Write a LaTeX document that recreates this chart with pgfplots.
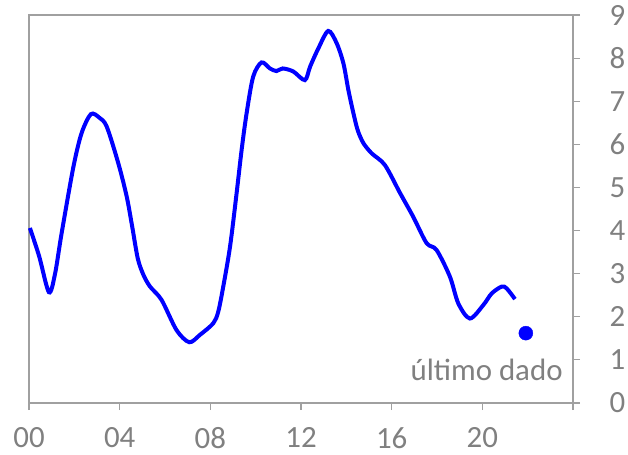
\documentclass[border=0pt]{standalone}
\usepackage{pgfplots}
\pgfplotsset{compat=1.18}
\usepackage{fontspec}
\setmainfont{Carlito}
\definecolor{axisgray}{RGB}{160,160,160}
\definecolor{textgray}{RGB}{128,128,128}
\definecolor{lineblue}{RGB}{0,0,255}

\begin{document}
\begin{tikzpicture}
\useasboundingbox (-29bp,-52bp) rectangle (599bp,403bp);
\begin{axis}[
    scale only axis,
    width=544bp, height=388bp,
    xmin=0, xmax=24, ymin=0, ymax=9,
    xtick={0,4,8,12,16,20,24},
    xticklabels={00,04,08,12,16,20,{}},
    ytick={0,1,...,9},
    xtick pos=bottom, ytick pos=right,
    yticklabel pos=right,
    tick align=outside,
    major tick length=7bp,
    axis line style={axisgray, line width=1.2pt},
    every tick/.style={axisgray, line width=1.2pt},
    tick label style={font=\fontsize{31}{33}\selectfont, text=textgray},
    /pgf/number format/assume math mode=true,
    xticklabel style={yshift=-14bp},
    yticklabel style={xshift=26bp},
    clip=false,
]
\addplot[lineblue, line width=4bp, smooth, tension=0.5] coordinates {
    (0.04,4.06) (0.45,3.40) (0.88,2.57) (1.15,3.00) (1.44,3.94)
    (1.96,5.48) (2.32,6.26) (2.73,6.70) (3.10,6.62) (3.43,6.41)
    (3.94,5.56) (4.31,4.79) (4.55,4.10) (4.80,3.35) (5.05,2.97)
    (5.34,2.70) (5.85,2.39) (6.51,1.69) (7.07,1.41) (7.54,1.58)
    (8.13,1.85) (8.35,2.12) (8.57,2.70) (8.87,3.63) (9.16,4.87)
    (9.38,5.87) (9.60,6.72) (9.89,7.57) (10.26,7.90) (10.63,7.76)
    (10.92,7.70) (11.19,7.76) (11.66,7.69) (12.17,7.49) (12.40,7.80)
    (12.76,8.22) (13.20,8.63) (13.57,8.35) (13.87,7.88) (14.09,7.26)
    (14.30,6.75) (14.50,6.33) (14.75,6.03) (15.12,5.79) (15.70,5.52)
    (16.37,4.87) (16.95,4.32) (17.54,3.71) (17.98,3.55) (18.57,2.93)
    (18.94,2.31) (19.45,1.96) (20.04,2.27) (20.41,2.54) (20.85,2.70)
    (21.07,2.66) (21.44,2.41)
};
\addplot[only marks, mark=*, mark size=7bp, lineblue] coordinates {(21.92,1.62)};
\node[anchor=base east, text=textgray, font=\fontsize{31}{33}\selectfont, inner sep=0pt]
    at (axis cs:23.55,0.53) {último dado};
\end{axis}
\end{tikzpicture}
\end{document}
